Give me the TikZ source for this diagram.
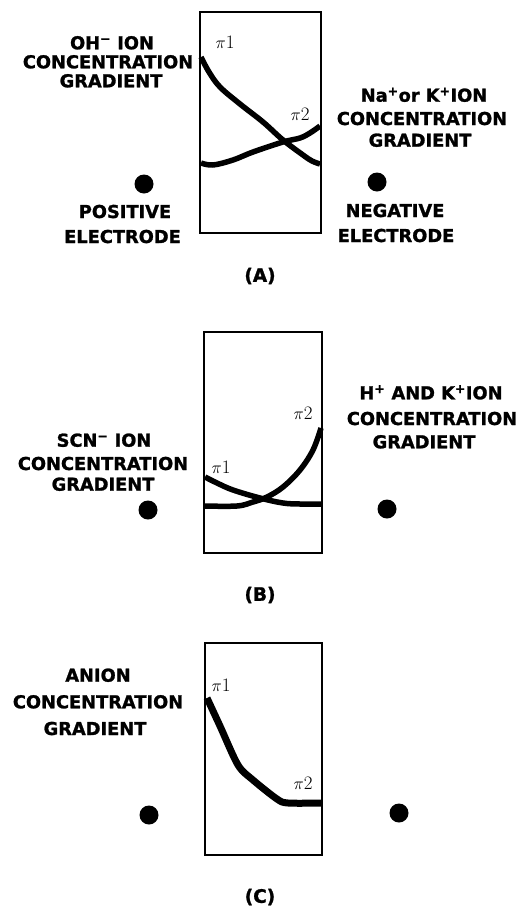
\documentclass[tikz,border=0pt]{standalone}
\usepackage{fontspec}
\newfontfamily\labfont{DejaVu Sans}[BoldFeatures={FakeBold=1.3}]
\begin{document}
\begin{tikzpicture}[x=1pt,y=-1pt,
  lab/.style={anchor=base,inner sep=0pt,font=\labfont\bfseries\fontsize{17.8}{18}\selectfont},
  panelcap/.style={inner sep=0pt,font=\labfont\bfseries\fontsize{18.5}{18}\selectfont},
  pilab/.style={inner sep=0pt,font=\fontsize{19}{19}\selectfont},
  cell/.style={line width=2.8pt},
  grad/.style={line width=5.5pt,line join=round},
  gradc/.style={line width=7pt,line join=round},
  electrode/.style={circle,fill=black,inner sep=0pt,minimum size=19pt}]
\useasboundingbox (0,0) rectangle (532,908);
% ---------------- (A)
\draw[cell] (200,12) rectangle (321,233);
\draw[grad] plot[smooth,tension=0.6] coordinates {(201,57) (209,72) (220,87) (240,104) (263,122) (283,140) (303,155) (312,161) (320,164)};
\draw[grad] plot[smooth,tension=0.6] coordinates {(201,163) (213,165) (233,160) (253,152) (283,142) (300,138) (310,133) (320,126)};
\node[pilab] (a1) at (225,42) {$\pi$1};
\node[pilab] (a2) at (300,114) {$\pi$2};
\node[lab] (aoh1) at (112,49.3) {OH\textsuperscript{−} ION};
\node[lab] (aoh2) at (108,68.3) {CONCENTRATION};
\node[lab] (aoh3) at (111,87.3) {GRADIENT};
\node[lab] (ana1) at (424,101.7) {Na\textsuperscript{+}or K\textsuperscript{+}ION};
\node[lab] (ana2) at (422,125) {CONCENTRATION};
\node[lab] (ana3) at (420,146.7) {GRADIENT};
\node[electrode] (ap) at (144,184) {};
\node[electrode] (an) at (377,182) {};
\node[lab] (apos1) at (125,218) {POSITIVE};
\node[lab] (apos2) at (122.5,243) {ELECTRODE};
\node[lab] (aneg1) at (395,217) {NEGATIVE};
\node[lab] (aneg2) at (396,242) {ELECTRODE};
\node[panelcap] (acap) at (260,276) {(A)};
% ---------------- (B)
\draw[cell] (204,332) rectangle (322,553);
\draw[grad] plot[smooth,tension=0.6] coordinates {(205,477) (217,483) (233,490) (260,498) (283,503) (300,504) (322,504)};
\draw[grad] plot[smooth,tension=0.6] coordinates {(205,506) (237,506) (253,502) (267,497) (283,487) (300,470) (313,450) (321,428)};
\node[pilab] (b2) at (303,413) {$\pi$2};
\node[pilab] (b1) at (221,467) {$\pi$1};
\node[lab] (bscn1) at (104,446.7) {SCN\textsuperscript{−} ION};
\node[lab] (bscn2) at (103,470) {CONCENTRATION};
\node[lab] (bscn3) at (103,490.7) {GRADIENT};
\node[lab] (bh1) at (431,399.3) {H\textsuperscript{+} AND K\textsuperscript{+}ION};
\node[lab] (bh2) at (432,425) {CONCENTRATION};
\node[lab] (bh3) at (424,448.3) {GRADIENT};
\node[electrode] (bp) at (148,510) {};
\node[electrode] (bn) at (387,509) {};
\node[panelcap] (bcap) at (260,595) {(B)};
% ---------------- (C)
\draw[cell] (205,643) rectangle (322,855);
\draw[gradc] plot[smooth,tension=0.5] coordinates {(207,698) (220,726) (238,765) (253,780) (277,799) (288,803) (322,803)};
\node[pilab] (c1) at (221,685) {$\pi$1};
\node[pilab] (c2) at (303,783) {$\pi$2};
\node[lab] (can1) at (98,681.7) {ANION};
\node[lab] (can2) at (98,708.3) {CONCENTRATION};
\node[lab] (can3) at (95,735) {GRADIENT};
\node[electrode] (cp) at (149,815) {};
\node[electrode] (cn) at (399,813) {};
\node[panelcap] (ccap) at (260,897) {(C)};
\end{tikzpicture}
\end{document}
